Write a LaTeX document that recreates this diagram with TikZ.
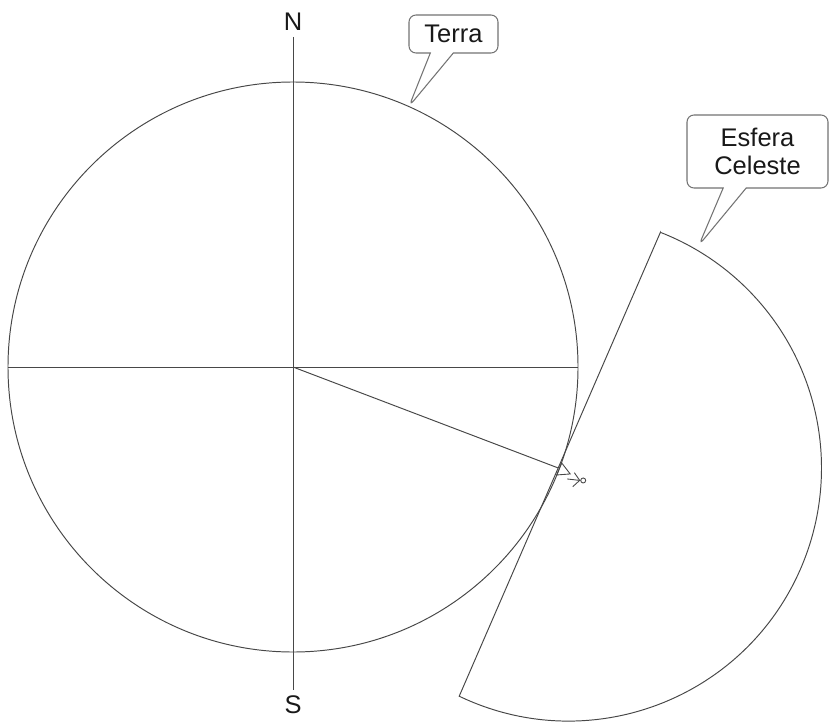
\documentclass[tikz,border=0pt]{standalone}
\usepackage{fontspec}
\setmainfont{Liberation Sans}
\usepackage{tikz}
\usetikzlibrary{shapes.callouts,calc,arrows.meta}

\tikzset{
  line/.style={draw=black!72,line width=0.55pt},
  lbl/.style={font=\fontsize{14.5}{16}\selectfont,text=black!90},
  bubble/.style={rectangle callout,draw=black!55,line width=0.6pt,fill=white,
    rounded corners=0.14cm,align=center,font=\fontsize{14.5}{16}\selectfont,
    text=black!90,inner sep=0pt,callout pointer width=0.46cm}
}

\begin{document}
\begin{tikzpicture}[>=stealth]
  \useasboundingbox (0,0) rectangle (16.66,14.48);
  \coordinate (O) at (5.86,7.14);
  \node[line,circle,minimum size=11.4cm,inner sep=0pt] (terra) at (O) {};
  \draw[line] (terra.west) -- (terra.east);
  \node[lbl] (N) at (5.86,14.04) {N};
  \node[lbl] (S) at (5.86,0.38) {S};
  \draw[line] (N.south) -- (S.north);
  \coordinate (A) at (13.208,9.834);
  \coordinate (B) at (9.184,0.556);
  \draw[line] (A) -- (B) arc[start angle=-115.6,end angle=68.7,radius=5.06] -- cycle;
  \coordinate (P) at ($(A)!0.508!(B)$);
  \draw[line] (O) -- (P);
  \begin{scope}[shift={(P)}]
    \draw[line,line width=0.5pt] (-0.03,-0.14) -- (0.07,0.1) -- (0.24,-0.12) -- cycle;
    \node[line,circle,inner sep=0pt,minimum size=0.1cm,line width=0.5pt] (obs) at (0.5,-0.25) {};
  \end{scope}
  \draw[line,-{Straight Barb[length=3.5pt,width=8pt]},line width=0.5pt]
    ($(P)+(0.18,-0.22)$) -- (obs.west);
  \coordinate (tipE) at (13.98,9.58);
  \node[bubble,minimum width=1.78cm,minimum height=0.76cm,
    callout absolute pointer={(terra.66)}] (terralbl) at (9.07,13.8) {Terra};
  \node[bubble,minimum width=2.82cm,minimum height=1.46cm,
    callout absolute pointer={(tipE)}] (esfera) at (15.15,11.45) {Esfera\\Celeste};
\end{tikzpicture}
\end{document}
